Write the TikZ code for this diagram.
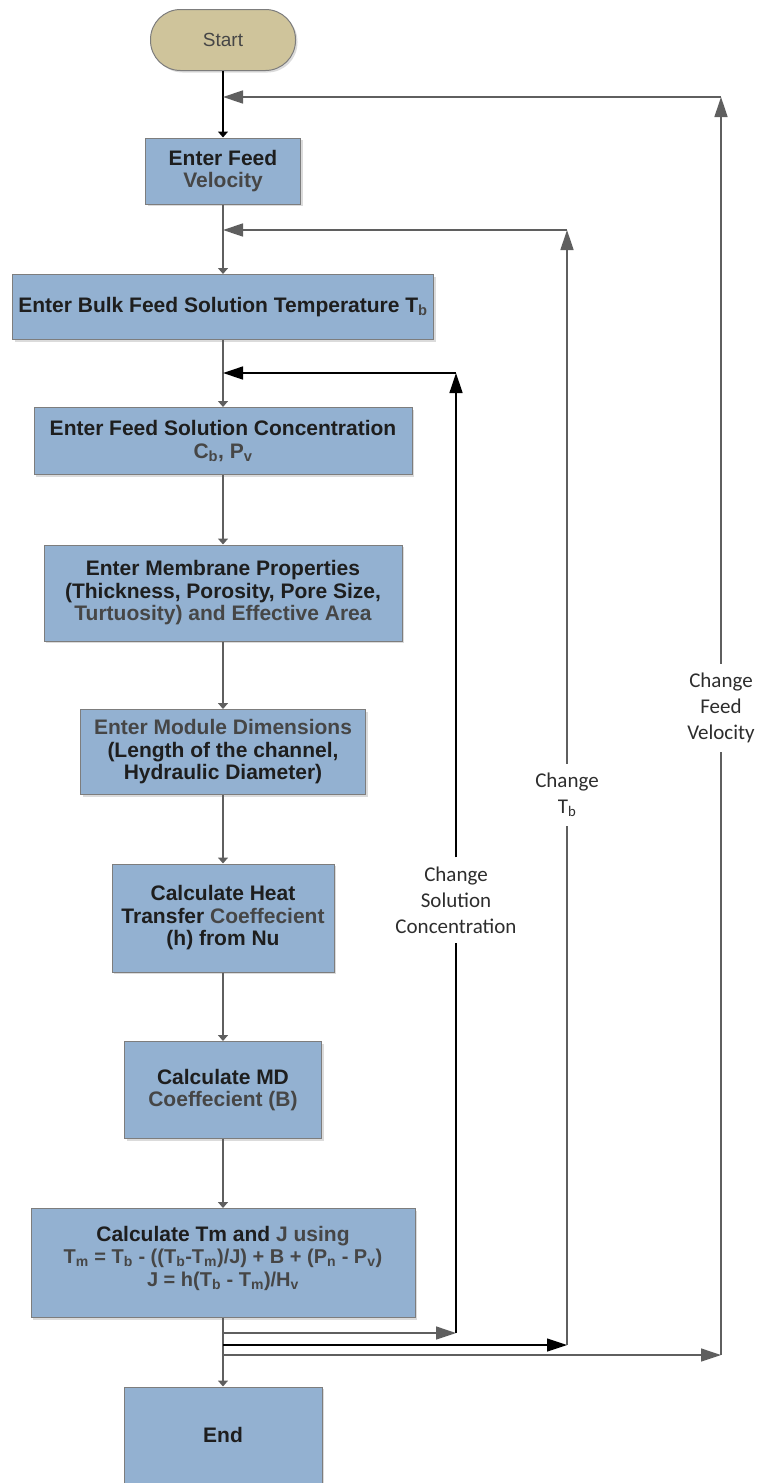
\documentclass[tikz,border=0pt]{standalone}
\usepackage{fontspec}
\setmainfont{Liberation Sans}
\newfontfamily\notefont{Carlito}
\usepackage{tikz}
\usetikzlibrary{arrows.meta,shadows}
\definecolor{boxblue}{RGB}{147,177,209}
\definecolor{boxtan}{RGB}{207,196,155}
\definecolor{edgegrey}{RGB}{125,125,125}
\definecolor{linegrey}{RGB}{95,95,95}
\definecolor{inkdark}{RGB}{30,30,30}
\definecolor{inksoft}{RGB}{70,70,70}
\definecolor{notegrey}{RGB}{45,45,45}

\begin{document}
\begin{tikzpicture}[x=1pt,y=-1pt,
    stepbox/.style={draw=edgegrey,fill=boxblue,line width=1pt,align=center,inner sep=0pt,
      text=inkdark,font=\fontsize{21}{22.5}\selectfont\bfseries,
      drop shadow={shadow xshift=2pt,shadow yshift=-2pt,fill=black!20,opacity=0.7}},
    startbox/.style={draw=edgegrey,fill=boxtan,line width=1pt,rounded corners=30pt,
      minimum width=145pt,minimum height=61pt,text=inksoft,font=\fontsize{19}{22}\selectfont,
      drop shadow={shadow xshift=2pt,shadow yshift=-2pt,fill=black!20,opacity=0.7}},
    note/.style={align=center,inner xsep=2pt,inner ysep=9pt,text=notegrey,
      font=\notefont\fontsize{21}{26}\selectfont},
    flow/.style={linegrey,line width=1.4pt,-{Triangle[length=6pt,width=10pt]}},
    flowdark/.style={black,line width=1.3pt,-{Triangle[length=6pt,width=10pt]}},
    loopgrey/.style={linegrey,line width=1.4pt},
    loopdark/.style={black,line width=1.3pt},
    bighead/.style={-{Triangle[length=20pt,width=13pt]}}]
  \useasboundingbox (0,0) rectangle (764,1483);
  \newcommand{\flowbox}[6]{
    \node[stepbox,minimum width=#4pt,minimum height=#5pt] (#1) at (223,#2) {#6};}
  \node[startbox] (start) at (223,40) {Start};
  \flowbox{fv}{171}{}{155}{66}{Enter Feed\\\color{inksoft}Velocity}
  \flowbox{tb}{307}{}{421}{65}{Enter Bulk Feed Solution Temperature T\textsubscript{\color{inksoft}b}}
  \flowbox{conc}{441}{}{378}{67}{Enter Feed Solution Concentration\\\color{inksoft}C\textsubscript{b}, P\textsubscript{v}}
  \flowbox{memb}{593}{}{358}{96}{Enter Membrane Properties\\(Thickness, Porosity, Pore Size,\\\color{inksoft}Turtuosity) and Effective Area}
  \flowbox{mod}{752}{}{285}{85}{\color{inksoft}Enter Module Dimensions\\(Length of the channel,\\Hydraulic Diameter)}
  \flowbox{heat}{918}{}{222}{108}{Calculate Heat\\Transfer {\color{inksoft}Coeffecient}\\(h) from Nu}
  \flowbox{md}{1090}{}{197}{97}{Calculate MD\\\color{inksoft}Coeffecient (B)}
  \flowbox{calc}{1263}{}{384}{109}{Calculate Tm and {\color{inksoft}J using}\\
    {\fontsize{20}{22.5}\selectfont\color{inksoft}T\textsubscript{m} = T\textsubscript{b} - ((T\textsubscript{b}-T\textsubscript{m})/J) + B + (P\textsubscript{n} - P\textsubscript{v})}\\
    {\fontsize{20}{22.5}\selectfont\color{inksoft}J = h(T\textsubscript{b} - T\textsubscript{m})/H\textsubscript{v}}\\[-9pt]}
  \flowbox{end}{1435}{}{198}{96}{End}
  \coordinate (fvin) at (223,97);
  \coordinate (tbin) at (223,230);
  \coordinate (cin) at (223,373);
  \coordinate (cout) at (223,1333);
  \coordinate (tbout) at (223,1345);
  \coordinate (fvout) at (223,1355);
  \coordinate (cbr) at (456,1333);
  \coordinate (ctr) at (456,373);
  \coordinate (tbbr) at (567,1345);
  \coordinate (tbtr) at (567,230);
  \coordinate (fvbr) at (721,1355);
  \coordinate (fvtr) at (721,97);
  \node[note] (clab) at (456,900) {Change\\Solution\\Concentration};
  \node[note] (tblab) at (567,795) {Change\\T\textsubscript{b}};
  \node[note] (fvlab) at (721,708) {Change\\Feed\\Velocity};
  \draw[flowdark] (start) -- (fv);
  \draw[flow] (fv) -- (tb);
  \draw[flow] (tb) -- (conc);
  \draw[flow] (conc) -- (memb);
  \draw[flow] (memb) -- (mod);
  \draw[flow] (mod) -- (heat);
  \draw[flow] (heat) -- (md);
  \draw[flow] (md) -- (calc);
  \draw[flow] (calc) -- (end);
  \draw[loopgrey,bighead] (cout) -- (cbr);
  \draw[loopdark] (cbr) -- (clab);
  \draw[loopdark,bighead] (clab) -- (ctr);
  \draw[loopdark,bighead] (ctr) -- (cin);
  \draw[loopdark,bighead] (tbout) -- (tbbr);
  \draw[loopgrey] (tbbr) -- (tblab);
  \draw[loopgrey,bighead] (tblab) -- (tbtr);
  \draw[loopgrey,bighead] (tbtr) -- (tbin);
  \draw[loopgrey,bighead] (fvout) -- (fvbr);
  \draw[loopgrey] (fvbr) -- (fvlab);
  \draw[loopgrey,bighead] (fvlab) -- (fvtr);
  \draw[loopgrey,bighead] (fvtr) -- (fvin);
\end{tikzpicture}
\end{document}
